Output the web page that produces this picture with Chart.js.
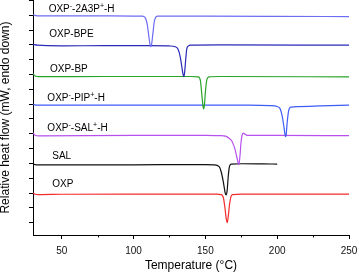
<!DOCTYPE html>
<html>
<head>
<meta charset="utf-8">
<script src="https://cdn.jsdelivr.net/npm/chart.js@4.4.1/dist/chart.umd.min.js"></script>
<style>
    html, body { margin: 0; padding: 0; background: #fff; }
    canvas { display: block; }
</style>
</head>
<body>
<canvas id="dsc" width="359" height="274"></canvas>
<script>
// DSC traces. Traces are stacked, one unit apart (endo down).
const seriesNames = ['OXP⁻-2A3P⁺-H', 'OXP-BPE', 'OXP-BP', 'OXP⁻-PIP⁺-H', 'OXP⁻-SAL⁺-H', 'SAL', 'OXP'];

const temp2A3P = [30, 32, 35, 60, 100, 106, 108, 109.5, 110.5, 111.5, 112, 112.5, 113.5, 114.5, 115.5, 117, 150, 200, 250];
const flow2A3P = [7.02, 6.99, 6.98, 6.98, 6.975, 6.97, 6.93, 6.7, 6.35, 6.0, 5.94, 6.0, 6.4, 6.8, 6.94, 6.97, 6.97, 6.965, 6.955];

const tempBPE = [30, 33, 50, 80, 110, 125, 129, 131, 132.5, 133.5, 134.5, 135, 135.5, 136.3, 137, 138, 140, 160, 250];
const flowBPE = [6.02, 5.99, 5.97, 5.975, 5.975, 5.965, 5.94, 5.85, 5.6, 5.3, 5.0, 4.93, 5.05, 5.5, 5.85, 5.96, 5.99, 6.0, 5.99];

const tempBP = [30, 31.5, 34, 80, 140, 145, 146.5, 147.5, 148.3, 148.8, 149.3, 150, 151, 152.5, 160, 250];
const flowBP = [5.03, 4.95, 4.93, 4.935, 4.935, 4.92, 4.8, 4.35, 3.95, 3.84, 3.95, 4.4, 4.82, 4.92, 4.935, 4.92];

const tempPIP = [30, 32, 100, 180, 195, 200, 202, 203.5, 204.8, 205.8, 206.3, 207, 208, 209.5, 215, 230, 250];
const flowPIP = [4.0, 3.97, 3.97, 3.965, 3.95, 3.92, 3.85, 3.6, 3.2, 2.9, 3.0, 3.4, 3.78, 3.9, 3.92, 3.94, 3.97];

const tempSALH = [30, 31.5, 34, 100, 150, 160, 164, 166.5, 168.5, 170.5, 172, 173.3, 174, 174.8, 175.6, 176.5, 177.5, 179, 200, 250];
const flowSALH = [3.03, 2.95, 2.93, 2.95, 2.95, 2.94, 2.92, 2.85, 2.75, 2.5, 2.2, 1.96, 2.2, 2.7, 2.96, 3.02, 2.99, 2.95, 2.945, 2.94];

const tempSAL = [30, 31.5, 34, 100, 150, 156, 159.6, 161, 162.5, 163.8, 164.5, 165.2, 166, 166.8, 168, 175, 190, 200];
const flowSAL = [2.0, 1.96, 1.95, 1.955, 1.96, 1.95, 1.89, 1.72, 1.38, 1.0, 0.935, 1.1, 1.6, 1.9, 1.98, 1.99, 1.985, 1.98];

const tempOXP = [30, 31.5, 34, 50, 100, 158, 161, 162.5, 163.5, 164.5, 165.2, 165.9, 166.8, 167.8, 169, 175, 250];
const flowOXP = [1.0, 0.96, 0.95, 0.96, 0.965, 0.965, 0.95, 0.85, 0.55, 0.15, 0.0, 0.2, 0.6, 0.88, 0.95, 0.965, 0.965];

const xTicks = [50, 100, 150, 200, 250];
const xMinorTicks = [75, 125, 175, 225];
const yTicks = [0, 0.5, 1, 1.5, 2, 2.5, 3, 3.5, 4, 4.5, 5, 5.5, 6, 6.5, 7, 7.5];

const FONT = '"Liberation Sans", Arial, sans-serif';
const colors = ['#6d6cf4', '#2a2ab8', '#28a428', '#3d5cf6', '#b850ee', '#111111', '#f52a2a'];

// where each trace name sits (temperature, stacked level)
const labelSpots = [
    { t: 40.9, v: 7.12 },
    { t: 41.3, v: 6.28 },
    { t: 41.8, v: 5.09 },
    { t: 40.0, v: 4.11 },
    { t: 40.0, v: 3.10 },
    { t: 43.4, v: 2.15 },
    { t: 43.4, v: 1.215 }
];

function toPoints(temps, flows) {
    return temps.map((t, i) => ({ x: t, y: flows[i] }));
}

const traces = [
    toPoints(temp2A3P, flow2A3P),
    toPoints(tempBPE, flowBPE),
    toPoints(tempBP, flowBP),
    toPoints(tempPIP, flowPIP),
    toPoints(tempSALH, flowSALH),
    toPoints(tempSAL, flowSAL),
    toPoints(tempOXP, flowOXP)
];

// Draw a name, with ⁻ and ⁺ set small and raised
function drawName(ctx, text, x, y) {
    let cx = x;
    for (const ch of text) {
        if (ch === '⁻' || ch === '⁺') {
            ctx.font = '7px ' + FONT;
            const s = ch === '⁻' ? '-' : '+';
            ctx.fillText(s, cx, y - 4);
            cx += ctx.measureText(s).width;
        } else {
            ctx.font = '10px ' + FONT;
            ctx.fillText(ch, cx, y);
            cx += ctx.measureText(ch).width;
        }
    }
}

const traceLabels = {
    id: 'traceLabels',
    afterDatasetsDraw(chart) {
        const { ctx, scales: { x, y } } = chart;
        ctx.save();
        ctx.fillStyle = '#000';
        ctx.textBaseline = 'alphabetic';
        labelSpots.forEach((s, i) => {
            drawName(ctx, seriesNames[i], x.getPixelForValue(s.t), y.getPixelForValue(s.v));
        });
        ctx.restore();
    }
};

const minorTicks = {
    id: 'minorTicks',
    afterDraw(chart) {
        const { ctx, scales: { x } } = chart;
        ctx.save();
        ctx.strokeStyle = '#000';
        ctx.lineWidth = 1;
        xMinorTicks.forEach(v => {
            const px = Math.round(x.getPixelForValue(v)) + 0.5;
            ctx.beginPath();
            ctx.moveTo(px, x.top);
            ctx.lineTo(px, x.top + 2.5);
            ctx.stroke();
        });
        ctx.restore();
    }
};

new Chart(document.getElementById('dsc'), {
    type: 'line',
    data: {
        datasets: traces.map((pts, i) => ({
            label: seriesNames[i],
            data: pts,
            borderColor: colors[i],
            borderWidth: 1.2,
            pointRadius: 0,
            cubicInterpolationMode: 'monotone',
            fill: false
        }))
    },
    options: {
        responsive: false,
        animation: false,
        devicePixelRatio: 1,
        layout: { padding: 0 },
        plugins: {
            legend: { display: false },
            tooltip: { enabled: false }
        },
        scales: {
            x: {
                type: 'linear',
                min: 30,
                max: 250,
                afterBuildTicks: s => { s.ticks = xTicks.map(v => ({ value: v })); },
                afterFit: s => {
                    s.height = 39;
                    s.paddingLeft = 0;
                    s.paddingRight = 10;
                },
                border: { display: true, color: '#000', width: 1 },
                grid: { drawOnChartArea: false, drawTicks: true, tickLength: 4, tickColor: '#000' },
                ticks: { color: '#111', font: { size: 10, family: FONT }, padding: 6, maxRotation: 0, autoSkip: false },
                title: {
                    display: true,
                    text: 'Temperature (°C)',
                    color: '#000',
                    font: { size: 12, family: FONT, lineHeight: 1.2 },
                    padding: { top: 0, bottom: 1 }
                }
            },
            y: {
                type: 'linear',
                min: -0.415,
                max: 7.516,
                afterBuildTicks: s => { s.ticks = yTicks.map(v => ({ value: v })); },
                afterFit: s => {
                    s.width = 33;
                    s.paddingTop = 0;
                    s.paddingBottom = 0;
                },
                border: { display: true, color: '#000', width: 1 },
                grid: { drawOnChartArea: false, drawTicks: true, tickLength: 4, tickColor: '#000' },
                ticks: { display: false },
                title: {
                    display: true,
                    text: 'Relative heat flow (mW, endo down)',
                    color: '#000',
                    font: { size: 12, family: FONT, lineHeight: 1 },
                    padding: 0
                }
            }
        }
    },
    plugins: [traceLabels, minorTicks]
});
</script>
</body>
</html>
